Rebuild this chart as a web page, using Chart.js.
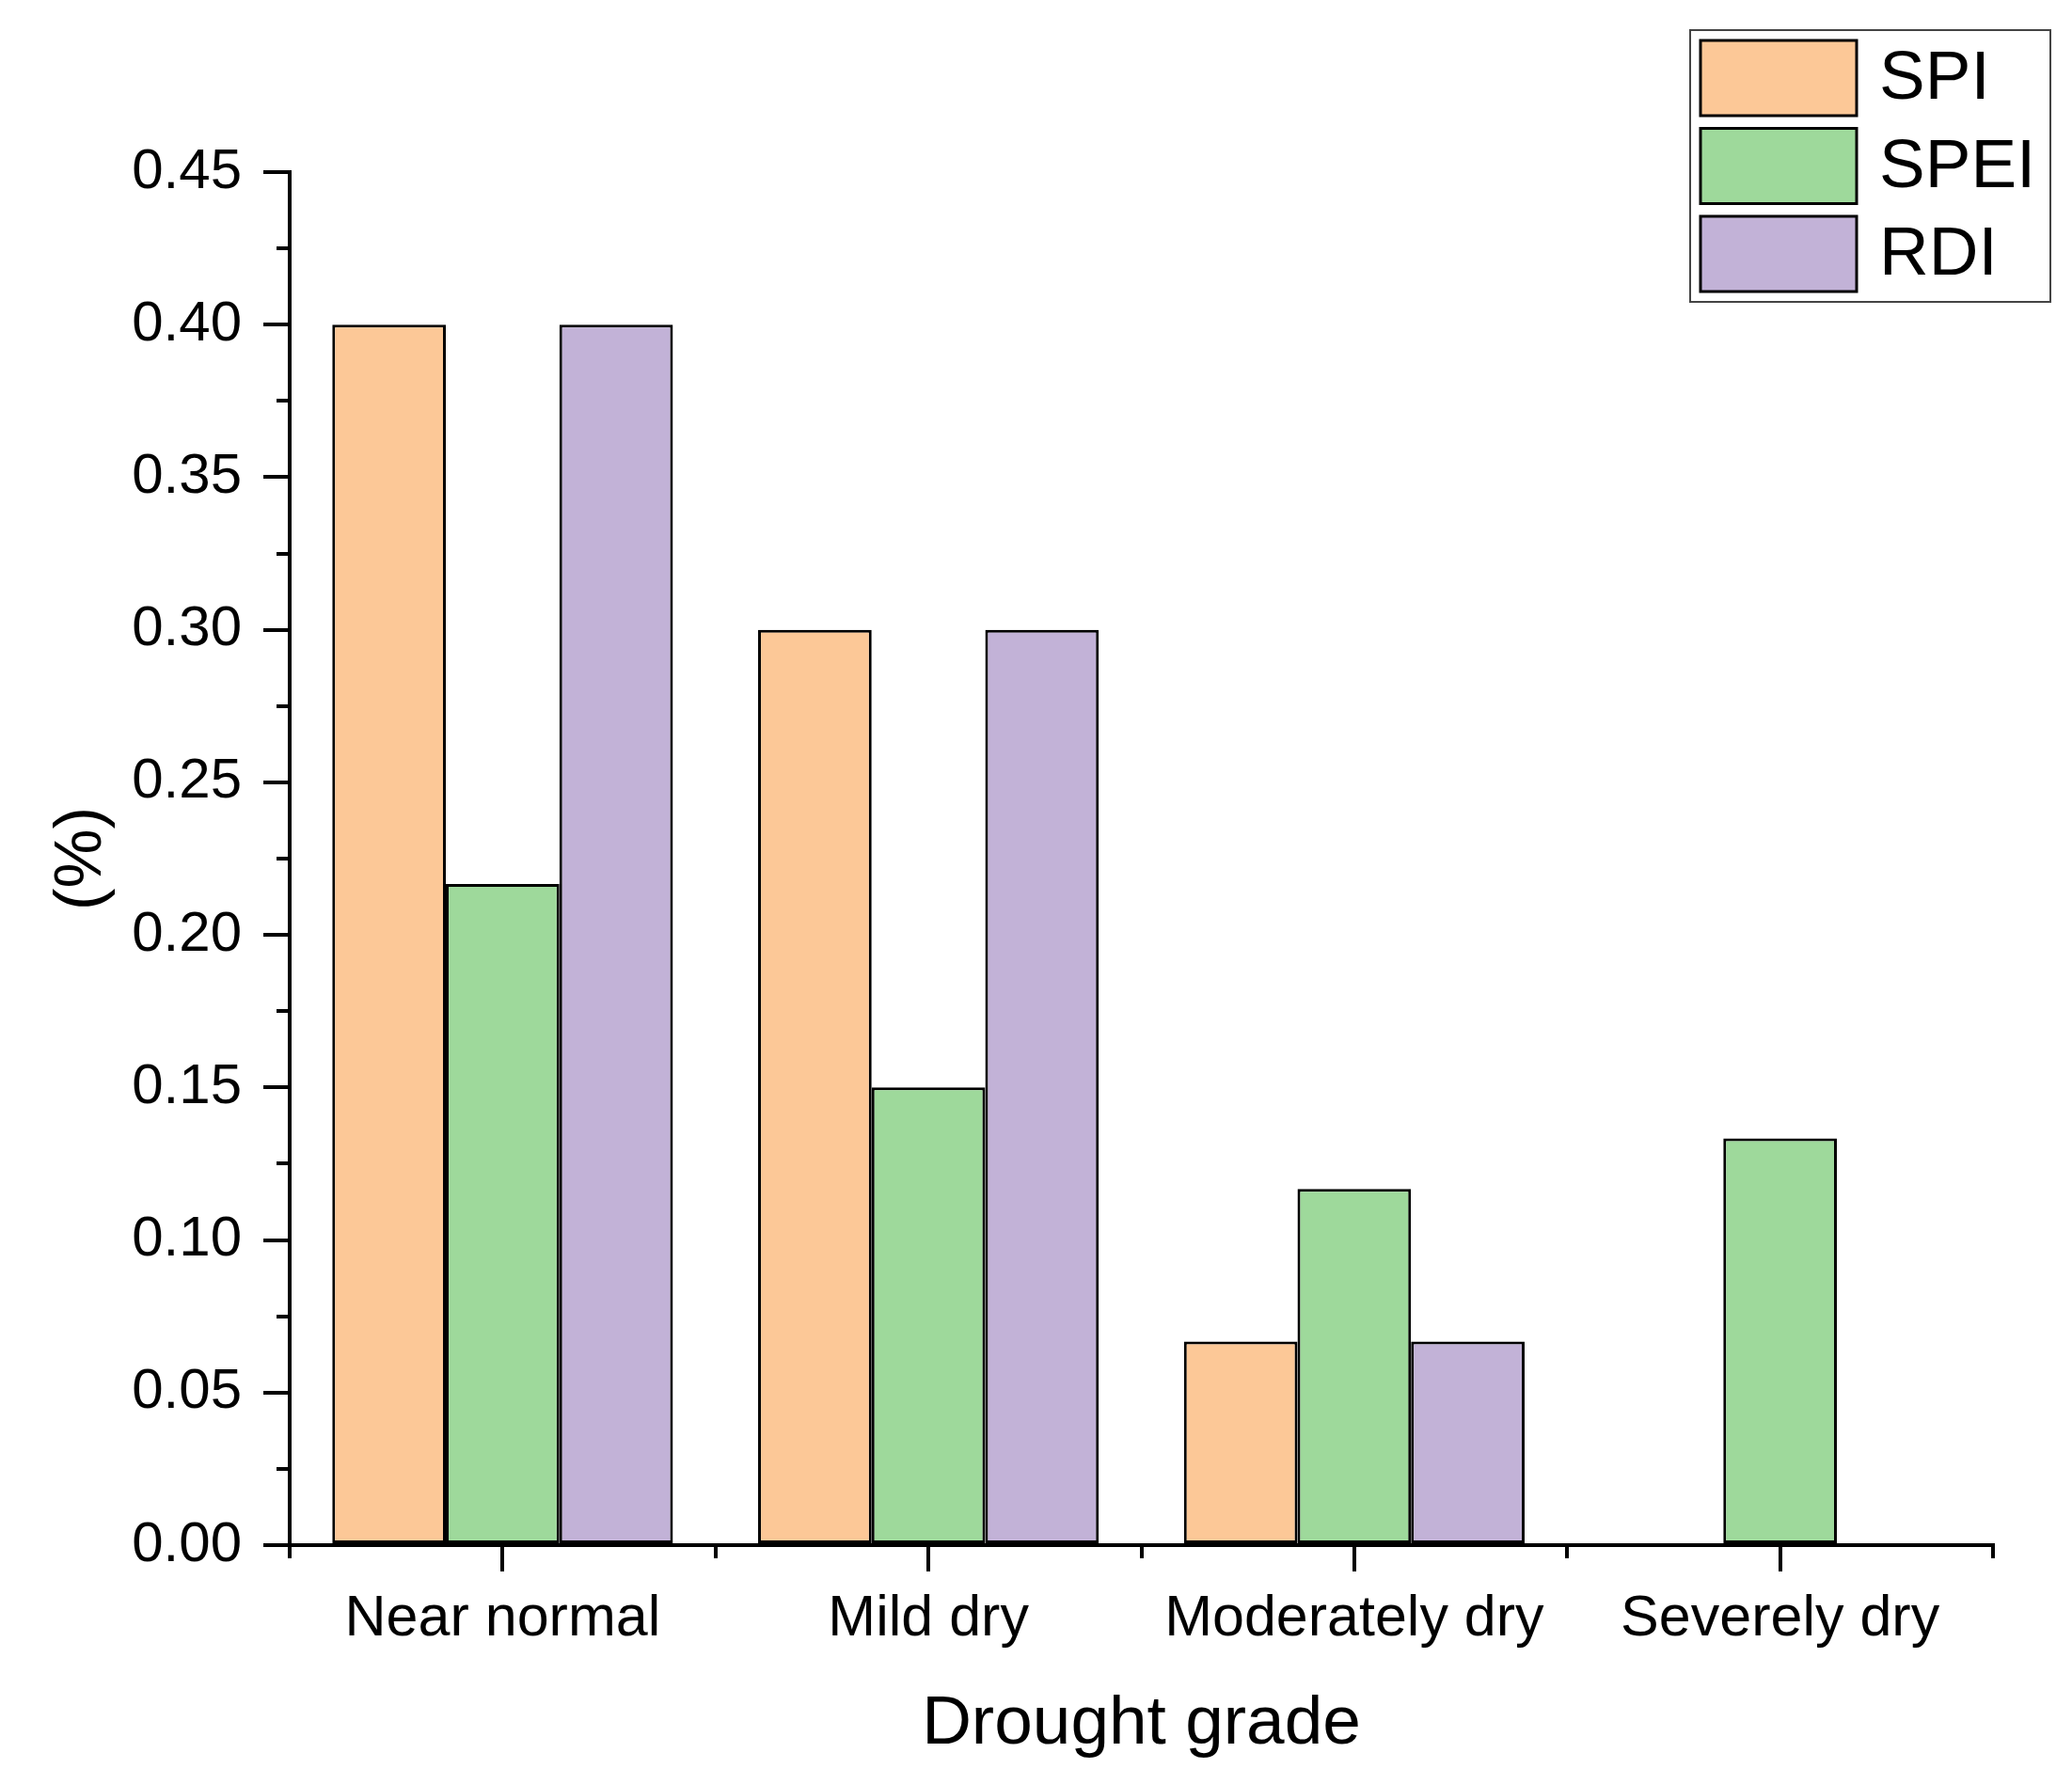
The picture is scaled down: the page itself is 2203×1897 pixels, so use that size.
<!DOCTYPE html>
<html>
<head>
<meta charset="utf-8">
<title>Drought grade</title>
<script src="https://cdn.jsdelivr.net/npm/chart.js@4.4.1/dist/chart.umd.min.js"></script>
<style>
  html, body { margin: 0; padding: 0; background: #ffffff; }
  #wrap { width: 2203px; height: 1897px; }
</style>
</head>
<body>
<div id="wrap"><canvas id="myChart" width="2203" height="1897"></canvas></div>
<script>
// Daten
const categories = ['Near normal', 'Mild dry', 'Moderately dry', 'Severely dry'];
const seriesNames = ['SPI', 'SPEI', 'RDI'];
const spiValues = [0.40, 0.30, 0.0667, 0];
const speiValues = [0.2167, 0.15, 0.1167, 0.1333];
const rdiValues = [0.40, 0.30, 0.0667, 0];
const yTickMin = 0;
const yTickMax = 0.45;
const yTickStep = 0.05;

const fontFamily = '"Liberation Sans", Arial, sans-serif';
const colors = ['#FCC897', '#9ED99B', '#C2B2D7'];

// kleine Ticks zwischen den grossen (Kategoriegrenzen und halbe Schritte)
const minorTicks = {
    id: 'minorTicks',
    afterDraw(chart) {
        const ctx = chart.ctx;
        const x = chart.scales.x;
        const y = chart.scales.y;
        const len = 14;
        ctx.save();
        ctx.strokeStyle = '#000';
        ctx.lineWidth = 4;
        ctx.beginPath();
        for (let i = 0; i <= categories.length; i++) {
            const px = Math.round(x.getPixelForValue(i - 0.5));
            ctx.moveTo(px, y.bottom);
            ctx.lineTo(px, y.bottom + len);
        }
        for (let v = yTickMin + yTickStep / 2; v < yTickMax; v += yTickStep) {
            const py = Math.round(y.getPixelForValue(v));
            ctx.moveTo(x.left - len, py);
            ctx.lineTo(x.left, py);
        }
        ctx.stroke();
        ctx.restore();
    }
};

// Legende oben rechts mit Rahmen
const boxLegend = {
    id: 'boxLegend',
    afterDraw(chart) {
        const ctx = chart.ctx;
        const left = 1797, top = 32, w = 383, h = 289;
        ctx.save();
        ctx.strokeStyle = '#444';
        ctx.lineWidth = 2;
        ctx.strokeRect(left, top, w, h);
        ctx.font = '73px ' + fontFamily;
        ctx.textBaseline = 'middle';
        ctx.textAlign = 'left';
        chart.data.datasets.forEach((ds, i) => {
            const sy = 43 + i * 93.5;
            ctx.fillStyle = ds.backgroundColor;
            ctx.fillRect(1808, sy, 166, 80);
            ctx.strokeStyle = '#000';
            ctx.lineWidth = 3;
            ctx.strokeRect(1808, sy, 166, 80);
            ctx.fillStyle = '#000';
            ctx.fillText(ds.label, 1998, sy + 42);
        });
        ctx.restore();
    }
};

const ctx = document.getElementById('myChart').getContext('2d');
new Chart(ctx, {
    type: 'bar',
    data: {
        labels: categories,
        datasets: [spiValues, speiValues, rdiValues].map((vals, i) => ({
            label: seriesNames[i],
            data: vals,
            backgroundColor: colors[i],
            borderColor: '#000',
            borderWidth: 3,
            borderSkipped: false,
            categoryPercentage: 0.8,
            barPercentage: 1.0
        }))
    },
    options: {
        responsive: false,
        animation: false,
        devicePixelRatio: 1,
        layout: {
            padding: { top: 183, right: 84, bottom: 0, left: 0 }
        },
        plugins: {
            legend: { display: false },
            tooltip: { enabled: false }
        },
        scales: {
            x: {
                offset: true,
                grid: {
                    offset: false,
                    drawOnChartArea: false,
                    drawTicks: true,
                    tickLength: 28,
                    lineWidth: 4,
                    color: '#000'
                },
                border: { display: true, color: '#000', width: 4 },
                ticks: {
                    color: '#000',
                    padding: 15,
                    maxRotation: 0,
                    autoSkip: false,
                    font: { family: fontFamily, size: 61 }
                },
                title: {
                    display: true,
                    text: 'Drought grade',
                    color: '#000',
                    font: { family: fontFamily, size: 73 },
                    padding: { top: 0, bottom: 19 }
                },
                afterFit: (scale) => { scale.height = 254; }
            },
            y: {
                min: yTickMin,
                max: yTickMax,
                grid: {
                    drawOnChartArea: false,
                    drawTicks: true,
                    tickLength: 28,
                    lineWidth: 4,
                    color: '#000'
                },
                border: { display: true, color: '#000', width: 4 },
                ticks: {
                    stepSize: yTickStep,
                    color: '#000',
                    padding: 23,
                    font: { family: fontFamily, size: 60 },
                    callback: (v) => Number(v).toFixed(2)
                },
                title: {
                    display: true,
                    text: '(%)',
                    color: '#000',
                    font: { family: fontFamily, size: 71 },
                    padding: { top: 45, bottom: 0 }
                },
                afterFit: (scale) => { scale.width = 308; }
            }
        }
    },
    plugins: [minorTicks, boxLegend]
});
</script>
</body>
</html>
